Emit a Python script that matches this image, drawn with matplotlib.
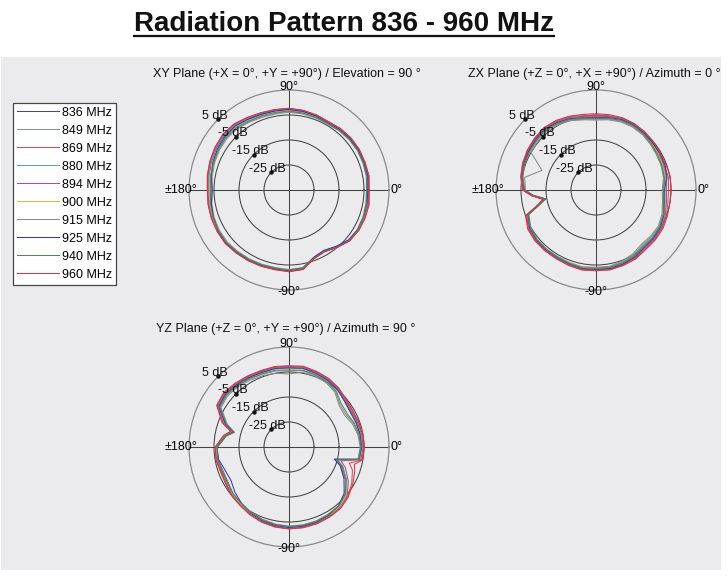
import numpy as np
import matplotlib
matplotlib.use("Agg")
import matplotlib.pyplot as plt
from matplotlib.patches import Rectangle
from matplotlib.lines import Line2D

plt.rcParams['font.family'] = ['Liberation Sans', 'DejaVu Sans']

W, H = 728, 582

# ---------------- data ----------------
FREQ_LABELS = ["836 MHz", "849 MHz", "869 MHz", "880 MHz", "894 MHz",
               "900 MHz", "915 MHz", "925 MHz", "940 MHz", "960 MHz"]
COLORS = ['#4a4a6a', '#7f9a88', '#c8505a', '#5aa0d0', '#b05088',
          '#c8c050', '#8a8a8a', '#3a3aa0', '#5a8060', '#d03848']

RING_DB = [5, -5, -15, -25]
RING_LABELS = ["5 dB", "-5 dB", "-15 dB", "-25 dB"]

XY_THETA = [0, 10, 20, 30, 40, 50, 60, 70, 80, 90, 100, 110, 120, 130, 140, 150, 160, 170,
            180, 190, 200, 210, 220, 230, 240, 250, 260, 270, 280, 290, 300, 310, 320, 330, 340, 350]
XY_836 = [-3.6,-3.1,-3.0,-3.0,-3.1,-3.4,-3.9,-3.5,-3.0,-2.8,-2.8,-2.7,-2.2,-1.4,-1.2,-1.5,-2.0,-2.6,-3.4,-2.9,-2.5,-2.2,-2.1,-2.5,-2.7,-2.9,-3.0,-2.7,-3.1,-6.2,-7.0,-5.5,-3.8,-3.2,-3.1,-3.2]
XY_849 = [-3.8,-3.4,-3.3,-3.2,-3.4,-3.8,-4.3,-4.0,-3.8,-3.6,-3.8,-3.7,-3.3,-2.6,-2.4,-2.6,-3.0,-3.4,-3.8,-3.2,-2.8,-2.5,-2.4,-2.8,-3.0,-3.2,-3.3,-3.0,-3.3,-6.0,-6.6,-5.2,-3.7,-3.3,-3.4,-3.6]
XY_869 = [-3.2,-2.7,-2.7,-2.6,-2.7,-3.0,-3.5,-3.1,-2.7,-2.4,-2.4,-2.2,-1.6,-0.7,-0.5,-0.9,-1.4,-1.9,-2.5,-2.2,-2.0,-1.9,-1.8,-2.2,-2.4,-2.6,-2.7,-2.4,-2.8,-5.8,-6.6,-5.1,-3.4,-2.8,-2.7,-2.7]
XY_880 = [-3.4,-2.9,-3.0,-2.9,-3.0,-3.3,-3.8,-3.4,-3.0,-2.7,-2.8,-2.6,-2.0,-1.2,-1.0,-1.3,-1.8,-2.3,-2.9,-2.6,-2.3,-2.1,-2.0,-2.4,-2.6,-2.8,-2.9,-2.6,-3.0,-6.1,-6.9,-5.4,-3.7,-3.1,-3.0,-3.0]
XY_894 = [-3.0,-2.6,-2.8,-2.7,-2.8,-3.1,-3.6,-3.2,-2.8,-2.5,-2.5,-2.3,-1.7,-0.9,-0.7,-1.0,-1.5,-2.0,-2.6,-2.3,-2.1,-1.9,-1.8,-2.2,-2.5,-2.7,-2.8,-2.5,-2.9,-5.9,-6.7,-5.2,-3.5,-2.9,-2.8,-2.7]
XY_900 = [-3.7,-3.2,-3.1,-3.1,-3.2,-3.5,-4.0,-3.7,-3.4,-3.1,-3.2,-3.1,-2.6,-1.9,-1.7,-2.0,-2.4,-2.8,-3.3,-2.9,-2.6,-2.3,-2.2,-2.6,-2.8,-3.0,-3.1,-2.8,-3.2,-6.0,-6.7,-5.3,-3.6,-3.1,-3.1,-3.3]
XY_915 = [-4.0,-3.6,-3.5,-3.4,-3.6,-4.0,-4.5,-4.3,-4.1,-3.9,-4.1,-4.0,-3.6,-2.9,-2.7,-2.9,-3.3,-3.8,-4.3,-3.6,-3.1,-2.8,-2.7,-3.0,-3.2,-3.4,-3.5,-3.2,-3.5,-6.1,-6.7,-5.3,-3.8,-3.4,-3.5,-3.8]
XY_925 = [-3.5,-3.0,-3.1,-3.0,-3.1,-3.4,-3.9,-3.5,-3.1,-2.8,-2.9,-2.8,-2.3,-1.6,-1.6,-2.0,-2.6,-3.4,-4.3,-3.5,-2.8,-2.3,-2.1,-2.5,-2.7,-2.9,-3.0,-2.7,-3.1,-6.3,-7.1,-5.6,-3.9,-3.3,-3.2,-3.3]
XY_940 = [-3.9,-3.4,-3.4,-3.3,-3.5,-3.8,-4.2,-4.0,-3.7,-3.4,-3.5,-3.4,-3.0,-2.3,-2.1,-2.4,-2.8,-3.2,-3.7,-3.1,-2.7,-2.4,-2.3,-2.7,-2.9,-3.1,-3.2,-2.9,-3.3,-6.0,-6.6,-5.0,-3.5,-3.2,-3.3,-3.5]
XY_960 = [-2.9,-2.5,-2.6,-2.5,-2.6,-2.9,-3.4,-3.0,-2.6,-2.3,-2.3,-2.1,-1.5,-0.6,-0.4,-0.8,-1.3,-1.8,-2.3,-2.1,-1.9,-1.8,-1.7,-2.1,-2.3,-2.5,-2.6,-2.3,-2.7,-5.7,-6.5,-5.0,-3.3,-2.7,-2.5,-2.4]

ZX_THETA = [0, 10, 20, 30, 40, 50, 60, 70, 80, 90, 100, 110, 120, 130, 140, 150, 160, 170,
            180, 185, 190, 195, 200, 210, 220, 230, 240, 250, 260, 270, 280, 290, 300, 310, 320, 330, 340, 350]
ZX_836 = [-7.8,-7.0,-6.6,-6.3,-5.9,-5.4,-5.1,-5.2,-5.7,-6.2,-5.8,-4.7,-3.9,-3.3,-3.7,-4.0,-4.3,-5.0,-6.3,-9.8,-14.5,-11.3,-6.2,-4.5,-4.0,-3.9,-3.9,-3.6,-3.2,-3.4,-3.3,-3.8,-4.3,-5.3,-5.2,-5.4,-6.2,-7.4]
ZX_849 = [-8.2,-7.3,-6.9,-6.8,-6.4,-5.9,-5.6,-5.7,-6.2,-6.7,-6.2,-5.2,-4.4,-3.9,-4.2,-4.4,-4.6,-5.3,-6.5,-9.6,-13.8,-10.9,-6.3,-4.7,-4.1,-4.0,-4.1,-3.9,-3.5,-3.8,-3.7,-4.3,-5.0,-6.2,-6.0,-5.8,-6.5,-7.8]
ZX_869 = [-6.0,-5.6,-5.9,-5.8,-5.3,-4.8,-4.5,-4.5,-4.9,-5.2,-4.8,-3.8,-3.0,-2.5,-2.8,-3.2,-3.7,-4.4,-5.6,-9.0,-13.5,-10.5,-5.2,-3.8,-3.4,-3.4,-3.4,-3.0,-2.6,-2.8,-2.6,-3.0,-3.3,-4.1,-4.2,-4.4,-5.0,-5.8]
ZX_880 = [-7.4,-6.7,-6.4,-6.0,-5.6,-5.1,-4.8,-4.9,-5.4,-5.9,-5.5,-4.4,-3.7,-3.1,-3.5,-3.8,-4.1,-4.7,-5.9,-9.4,-13.9,-10.9,-5.9,-4.3,-3.8,-3.7,-3.7,-3.4,-3.0,-3.2,-3.0,-3.4,-3.8,-4.8,-4.7,-4.9,-5.8,-6.9]
ZX_894 = [-6.8,-6.3,-6.1,-5.8,-5.4,-4.9,-4.6,-4.7,-5.1,-5.6,-5.2,-4.1,-3.4,-2.9,-3.2,-3.6,-3.9,-4.5,-5.7,-9.2,-13.7,-10.7,-5.6,-4.0,-3.6,-3.5,-3.5,-3.2,-2.8,-3.0,-2.8,-3.2,-3.6,-4.5,-4.5,-4.7,-5.5,-6.4]
ZX_900 = [-7.6,-6.9,-6.6,-6.3,-5.8,-5.3,-5.0,-5.1,-5.6,-6.1,-5.7,-4.6,-3.9,-3.4,-3.8,-4.1,-4.5,-5.2,-6.4,-9.9,-14.2,-11.2,-6.1,-4.5,-4.0,-3.9,-3.8,-3.5,-3.2,-3.4,-3.2,-3.7,-4.1,-5.1,-5.0,-5.2,-6.0,-7.1]
ZX_915 = [-8.5,-7.6,-7.2,-7.0,-6.6,-6.1,-5.9,-6.0,-6.5,-7.0,-6.5,-5.5,-4.8,-4.3,-4.7,-5.0,-12.0,-6.0,-6.8,-9.5,-13.5,-10.8,-6.4,-4.9,-4.3,-4.2,-4.3,-4.1,-3.8,-4.1,-4.0,-4.7,-5.5,-6.7,-6.4,-6.2,-6.9,-8.0]
ZX_925 = [-7.7,-6.2,-5.6,-5.5,-5.5,-5.2,-4.9,-5.0,-5.6,-6.1,-5.7,-4.6,-3.8,-3.2,-3.6,-3.9,-4.2,-4.9,-6.2,-9.8,-14.4,-11.2,-6.1,-4.4,-3.9,-3.8,-3.8,-3.5,-3.1,-3.3,-3.1,-3.5,-4.0,-5.0,-5.0,-5.2,-6.1,-7.3]
ZX_940 = [-7.9,-7.2,-6.9,-6.6,-6.1,-5.6,-5.3,-5.4,-5.9,-6.4,-6.0,-4.9,-4.2,-3.6,-4.0,-4.3,-4.6,-5.2,-6.4,-9.9,-14.3,-11.1,-6.2,-4.6,-4.1,-4.0,-4.0,-3.7,-3.3,-3.6,-3.5,-4.0,-4.6,-5.7,-5.5,-5.6,-6.3,-7.6]
ZX_960 = [-5.0,-4.8,-5.2,-5.3,-5.0,-4.6,-4.3,-4.2,-4.4,-4.5,-4.3,-3.6,-2.9,-2.6,-3.0,-3.4,-4.0,-4.8,-6.0,-9.3,-13.6,-10.6,-5.0,-3.5,-3.2,-3.2,-3.2,-2.9,-2.5,-2.7,-2.6,-2.9,-3.2,-4.0,-4.0,-4.1,-4.6,-5.0]

YZ_THETA = [0, 10, 20, 30, 40, 50, 60, 70, 80, 90, 100, 110, 120, 130, 140, 150, 160, 165, 170,
            180, 190, 200, 210, 220, 230, 240, 250, 260, 270, 280, 290, 300, 310, 320, 330, 340, 345, 350]
YZ_836 = [-5.9,-6.1,-6.5,-6.8,-6.2,-5.0,-4.2,-3.7,-3.1,-3.4,-3.2,-3.3,-3.0,-2.5,-2.0,-2.6,-8.0,-12.0,-9.4,-6.3,-6.1,-6.9,-6.8,-5.8,-5.2,-4.4,-3.7,-3.2,-2.9,-2.9,-3.0,-3.4,-3.8,-5.3,-8.9,-13.0,-16.0,-6.4]
YZ_849 = [-6.3,-6.7,-7.5,-8.8,-8.4,-6.0,-4.9,-4.4,-4.0,-4.5,-4.1,-4.0,-3.6,-3.0,-2.6,-3.2,-8.3,-11.6,-9.0,-6.0,-5.7,-6.3,-6.2,-5.6,-5.2,-4.5,-3.9,-3.4,-3.1,-3.1,-3.2,-3.6,-4.0,-5.5,-8.4,-12.0,-14.8,-6.8]
YZ_869 = [-5.0,-5.2,-5.6,-5.8,-5.4,-4.3,-3.5,-3.0,-2.4,-2.7,-2.5,-2.6,-2.3,-1.8,-1.2,-1.8,-6.8,-11.0,-8.6,-5.6,-5.4,-6.0,-5.8,-5.0,-4.6,-3.8,-3.1,-2.6,-2.3,-2.3,-2.4,-2.7,-3.1,-4.3,-6.0,-8.0,-10.0,-5.4]
YZ_880 = [-5.6,-5.8,-6.2,-6.5,-5.9,-4.7,-3.9,-3.4,-2.8,-3.1,-2.9,-3.0,-2.7,-2.2,-1.7,-2.3,-7.4,-11.4,-8.9,-5.9,-5.7,-6.4,-6.2,-5.4,-4.9,-4.1,-3.4,-2.9,-2.6,-2.6,-2.7,-3.1,-3.5,-4.9,-8.4,-12.4,-15.4,-6.1]
YZ_894 = [-5.3,-5.5,-5.9,-6.2,-5.6,-4.5,-3.7,-3.2,-2.6,-2.9,-2.7,-2.8,-2.5,-2.0,-1.5,-2.1,-7.0,-11.2,-8.8,-5.8,-5.6,-6.2,-6.0,-5.2,-4.8,-4.0,-3.3,-2.8,-2.5,-2.5,-2.6,-2.9,-3.3,-4.6,-7.6,-11.0,-13.5,-5.8]
YZ_900 = [-5.8,-6.0,-6.4,-6.7,-6.1,-4.9,-4.1,-3.6,-3.0,-3.3,-3.1,-3.2,-2.9,-2.4,-1.9,-2.5,-7.6,-11.6,-9.1,-6.1,-5.9,-6.6,-6.4,-5.6,-5.1,-4.3,-3.6,-3.1,-2.8,-2.8,-2.9,-3.3,-3.7,-5.1,-8.6,-12.6,-15.6,-6.3]
YZ_915 = [-6.5,-7.0,-8.0,-9.4,-8.9,-6.4,-5.3,-4.8,-4.6,-5.8,-5.0,-4.6,-4.1,-3.4,-3.0,-3.6,-8.8,-12.4,-9.6,-6.4,-6.0,-6.7,-6.6,-5.9,-5.5,-4.8,-4.2,-3.7,-3.4,-3.4,-3.5,-3.9,-4.3,-5.8,-8.8,-12.6,-15.8,-7.0]
YZ_925 = [-5.9,-6.1,-6.4,-6.7,-6.1,-4.9,-4.1,-3.6,-3.0,-3.3,-3.1,-3.2,-2.9,-2.4,-1.9,-2.5,-7.8,-11.8,-9.3,-6.2,-6.4,-7.8,-8.2,-6.8,-5.5,-4.4,-3.6,-3.1,-2.8,-2.8,-2.9,-3.4,-4.2,-6.2,-9.6,-13.2,-16.2,-6.5]
YZ_940 = [-6.2,-6.5,-7.2,-8.2,-7.8,-5.7,-4.7,-4.2,-3.8,-4.2,-3.8,-3.8,-3.4,-2.8,-2.4,-3.0,-8.4,-12.2,-9.4,-6.3,-6.0,-6.6,-6.5,-5.8,-5.4,-4.6,-4.0,-3.5,-3.2,-3.2,-3.3,-3.7,-4.1,-5.6,-8.6,-12.4,-15.2,-6.6]
YZ_960 = [-4.8,-5.0,-5.4,-5.6,-5.2,-4.1,-3.3,-2.8,-2.2,-2.5,-2.3,-2.4,-2.1,-1.6,-1.0,-1.6,-6.5,-10.8,-8.4,-5.5,-5.3,-5.9,-5.7,-4.9,-4.5,-3.7,-3.0,-2.5,-2.2,-2.2,-2.3,-2.6,-2.9,-4.0,-5.5,-7.0,-8.0,-5.2]

PLANES = [
    ("XY Plane (+X = 0°, +Y = +90°) / Elevation = 90 °", (289, 190), XY_THETA,
     [XY_836, XY_849, XY_869, XY_880, XY_894, XY_900, XY_915, XY_925, XY_940, XY_960]),
    ("ZX Plane (+Z = 0°, +X = +90°) / Azimuth = 0 °", (596, 190), ZX_THETA,
     [ZX_836, ZX_849, ZX_869, ZX_880, ZX_894, ZX_900, ZX_915, ZX_925, ZX_940, ZX_960]),
    ("YZ Plane (+Z = 0°, +Y = +90°) / Azimuth = 90 °", (289, 447), YZ_THETA,
     [YZ_836, YZ_849, YZ_869, YZ_880, YZ_894, YZ_900, YZ_915, YZ_925, YZ_940, YZ_960]),
]
TITLE_Y = [74, 74, 329]
TITLE_X = [287, 594, 286]

# ---------------- figure ----------------
fig = plt.figure(figsize=(W / 100, H / 100), dpi=100)
fig.patch.set_facecolor('white')
fig.patches.append(Rectangle((1 / W, (H - 570) / H), 720 / W, (570 - 57) / H,
                             transform=fig.transFigure, facecolor='#ebebed',
                             edgecolor='none', zorder=-5))

R = 100
FS = 9
handles = []
for k, (ttl, (cx, cy), theta, rows) in enumerate(PLANES):
    ax = fig.add_axes([(cx - R) / W, (H - cy - R) / H, 2 * R / W, 2 * R / H],
                      projection='polar')
    ax.set_zorder(2)
    ax.set_facecolor('none')
    ax.set_ylim(-35, 5)
    ax.set_yticks([-25, -15, -5])
    ax.set_yticklabels([])
    ax.set_xticks(np.deg2rad([0, 90, 180, 270]))
    ax.set_xticklabels([])
    ax.grid(True, color='#444444', lw=0.75)
    ax.spines['polar'].set_color('#8a8a8a')
    ax.spines['polar'].set_linewidth(0.9)
    th = np.deg2rad(np.array(theta + [360]))
    for vals, col, lab in zip(rows, COLORS, FREQ_LABELS):
        ln, = ax.plot(th, vals + [vals[0]], color=col, lw=0.75, label=lab, zorder=3)
        if k == 0:
            handles.append(ln)
    # ring labels at 135 deg
    ax.plot(np.deg2rad([135] * len(RING_DB)), RING_DB, 'o', color='#111111',
            ms=2.2, zorder=4, clip_on=False)
    for db, txt in zip(RING_DB, RING_LABELS):
        ax.annotate(txt, xy=(np.deg2rad(135), db), xytext=(-2.5, 2.5),
                    textcoords='offset points', ha='center', va='center',
                    fontsize=FS, color='#111111', zorder=5, annotation_clip=False)
    # angle labels
    ax.annotate("90°", xy=(0.5, 1.0), xycoords='axes fraction', xytext=(0, 2.0),
                textcoords='offset points', ha='center', va='center', fontsize=FS)
    ax.annotate("-90°", xy=(0.5, 0.0), xycoords='axes fraction', xytext=(0, -1.5),
                textcoords='offset points', ha='center', va='center', fontsize=FS)
    ax.annotate("0°", xy=(1.0, 0.5), xycoords='axes fraction', xytext=(1, 0),
                textcoords='offset points', ha='left', va='center', fontsize=FS)
    ax.annotate("±180°", xy=(0.0, 0.5), xycoords='axes fraction', xytext=(6, 0),
                textcoords='offset points', ha='right', va='center', fontsize=FS)
    fig.text(TITLE_X[k] / W, 1 - TITLE_Y[k] / H, ttl, ha='center', va='center',
             fontsize=FS, color='#111111')

# main title with underline
t = fig.text(343.5 / W, 1 - 24 / H, "Radiation Pattern 836 - 960 MHz", ha='center',
             va='center', fontsize=20, fontweight='bold', color='#111111')
fig.canvas.draw()
bb = t.get_window_extent()
fig.add_artist(Line2D([bb.x0 / W, bb.x1 / W], [(bb.y0 + 1) / H, (bb.y0 + 1) / H],
                      transform=fig.transFigure, color='#111111', lw=1.6))

leg = fig.legend(handles=handles, labels=FREQ_LABELS, loc='upper left',
                 bbox_to_anchor=(13 / W, 1 - 103 / H), borderaxespad=0,
                 fontsize=FS, frameon=True, fancybox=False, framealpha=1,
                 edgecolor='#444444', facecolor='white', handlelength=3.4,
                 handletextpad=0.2, labelspacing=0.48, borderpad=0.3)
leg.get_frame().set_linewidth(0.9)

fig.savefig("out.png", dpi=100, facecolor=fig.get_facecolor())
